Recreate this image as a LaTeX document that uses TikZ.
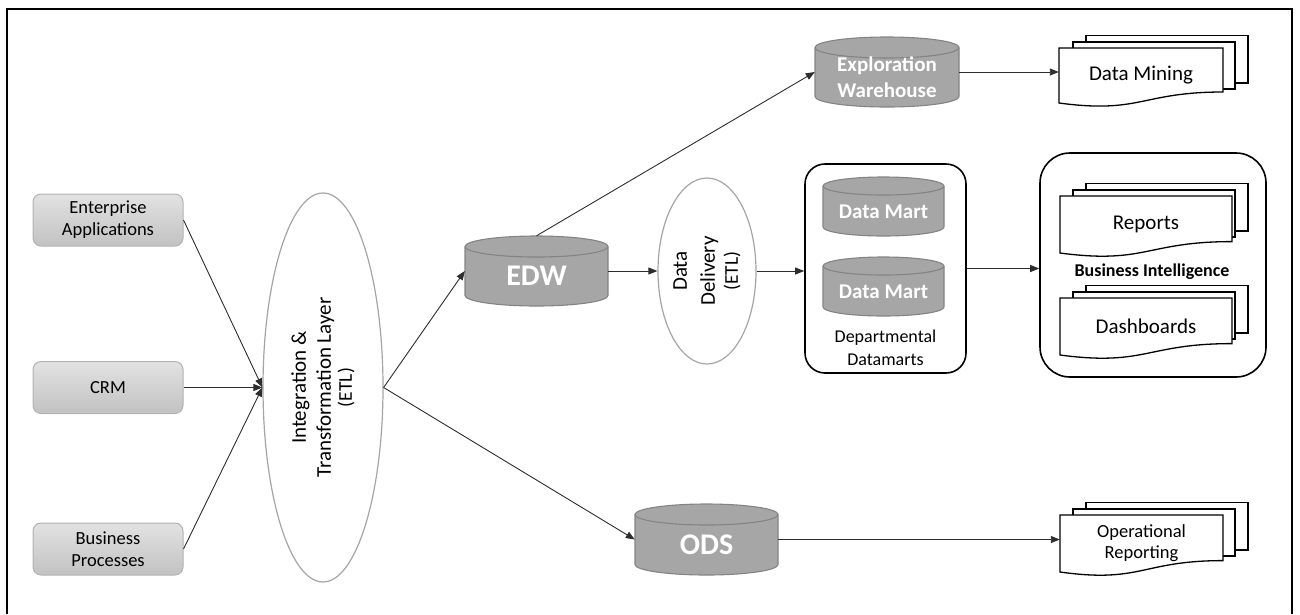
\documentclass[tikz,border=0pt]{standalone}
\usepackage{fontspec}
\setmainfont{Carlito}
\usetikzlibrary{arrows.meta,shapes.geometric}

\definecolor{srcTop}{RGB}{226,226,226}
\definecolor{srcBot}{RGB}{194,194,194}
\definecolor{srcLine}{RGB}{178,178,178}
\definecolor{cylFill}{RGB}{166,166,166}
\definecolor{cylLine}{RGB}{132,132,132}
\definecolor{ovalLine}{RGB}{165,165,165}
\definecolor{wireCol}{RGB}{45,45,45}

\newcommand{\fs}[2]{\fontsize{#1}{#2}\selectfont}

% database cylinder: [label options]{name}{cx}{cy}{width}{height}{rim radius}{label}
\newcommand{\dbcyl}[8][]{%
  \path[cylbody] ({#3-#5/2},{-(#4)+#6/2-#7}) -- ({#3-#5/2},{-(#4)-#6/2+#7})
     arc[start angle=180,end angle=360,x radius={#5/2},y radius=#7]
     -- ({#3+#5/2},{-(#4)+#6/2-#7})
     arc[start angle=0,end angle=180,x radius={#5/2},y radius=#7] -- cycle;
  \draw[cylrim] ({#3-#5/2},{-(#4)+#6/2-#7})
     arc[start angle=180,end angle=360,x radius={#5/2},y radius=#7];
  \node[cylnode,minimum width=#5,minimum height=#6] (#2) at (#3,{-(#4)}) {};
  \node[cyllabel,#1] (#2-text) at ([yshift=-5]#2.center) {#8};
}

% stack of pages: [label options]{name}{left}{right}{top}{left bottom}{label}
\newcommand{\docstack}[7][]{%
  \draw[page] (1086,{-(#5)+12.5}) rectangle (1248,{-(#5)-35});
  \draw[page] (1073,{-(#5)+6}) rectangle (1235,{-(#5)-41});
  \draw[page] (#3,{-(#5)}) -- (#4,{-(#5)}) -- (#4,{-(#5)-0.8*(#6-#5)})
     .. controls ({(#3+#4)/2},{-(#5)-0.8*(#6-#5)}) and ({(#3+#4)/2},{-(#6)-0.2*(#6-#5)}) .. (#3,{-(#6)}) -- cycle;
  \node[doclabel,minimum width={#4-#3},minimum height={#6-#5},#1] (#2) at ({(#3+#4)/2},{-(#5+#6)/2}) {#7};
}

\begin{document}
\begin{tikzpicture}[x=1pt,y=1pt,
  srcbox/.style={draw=srcLine,line width=1,rounded corners=8,top color=srcTop,bottom color=srcBot,
    minimum width=150,minimum height=52,inner sep=0,align=center,font=\fs{18.5}{22}},
  oval/.style={ellipse,draw=ovalLine,line width=1.2,fill=white,inner sep=0},
  ovallabel/.style={rotate=90,align=center,inner sep=0},
  cylbody/.style={fill=cylFill,draw=cylLine,line width=1.1,line join=round},
  cylrim/.style={draw=cylLine,line width=1.1},
  cylnode/.style={inner sep=0},
  cyllabel/.style={text=white,align=center,inner sep=0},
  groupbox/.style={draw=black,line width=1.6,fill=white,inner sep=0},
  page/.style={draw=black,line width=1.3,fill=white,line join=miter},
  doclabel/.style={align=center,inner sep=0,font=\fs{21}{24}},
  wire/.style={draw=wireCol,line width=0.9,-{Triangle[length=9pt,width=7pt]}},
  frameline/.style={draw=black,line width=2.2,line join=miter}]

\useasboundingbox (0,0) rectangle (1300,-614);

% outer frame, open at the bottom edge
\draw[frameline] (7,-614) -- (7,-9) -- (1292,-9) -- (1292,-614);

% source systems
\node[srcbox] (ea) at (108,-220) {Enterprise\\Applications};
\node[srcbox] (crm) at (108,-387.5) {CRM};
\node[srcbox] (bp) at (108,-549) {Business\\Processes};

% integration layer
\node[oval,minimum width=120,minimum height=389] (etl) at (323,-387.5) {};
\node[ovallabel,font=\fs{21}{25}] (etl-text) at (etl.center)
  {Integration \&\\Transformation Layer\\[-4pt]{\fs{19.5}{21}(ETL)}};

% warehouses
\dbcyl[font=\fs{30}{30}\bfseries]{edw}{536.5}{271}{143}{70}{10.5}{EDW}
\dbcyl[font=\fs{21}{26}\bfseries]{ew}{887}{72}{144}{70}{10.5}{Exploration\\Warehouse}
\dbcyl[font=\fs{30}{30}\bfseries]{ods}{706.5}{539.5}{143}{71}{10.5}{ODS}

% data delivery
\node[oval,minimum width=98,minimum height=186] (dd) at (707,-271) {};
\node[ovallabel,font=\fs{21}{28}] (dd-text) at (dd.center)
  {Data\\Delivery\\[-5pt]{\fs{19.5}{21}(ETL)}};

% departmental datamarts
\node[groupbox,rounded corners=20,minimum width=161,minimum height=209] (marts) at (885.5,-268.5) {};
\dbcyl[font=\fs{21}{24}\bfseries]{mart1}{883.5}{206.5}{121}{59}{9}{Data Mart}
\dbcyl[font=\fs{21}{24}\bfseries]{mart2}{883.5}{286.5}{121}{59}{9}{Data Mart}
\node[align=center,inner sep=0,font=\fs{18}{23}] (marts-text) at (885.5,-348) {Departmental\\Datamarts};

% business intelligence
\node[groupbox,rounded corners=30,minimum width=226,minimum height=224] (bi) at (1153,-265) {};
\docstack{reports}{1060}{1232}{196}{253}{Reports}
\docstack{dashboards}{1060}{1232}{298}{355}{Dashboards}
\node[inner sep=0,font=\fs{18}{18}\bfseries] (bi-text) at (1152,-272) {Business Intelligence};

% other outputs
\docstack{mining}{1059}{1223}{48}{103}{Data Mining}
\docstack[font=\fs{18.5}{21}]{opreport}{1060}{1223}{515}{572}{Operational\\Reporting}

% connectors
\draw[wire] (ea.east) -- (etl.west);
\draw[wire] (crm.east) -- (etl.west);
\draw[wire] (bp.east) -- (etl.west);
\draw[wire] (etl.east) -- (edw.west);
\draw[wire] (etl.east) -- (ods.west);
\draw[wire] (edw.north) -- (ew.west);
\draw[wire] (edw.east) -- (dd.west);
\draw[wire] (dd.east) -- (dd.east -| marts.west);
\draw[wire] (marts.east) -- (marts.east -| bi.west);
\draw[wire] (ew.east) -- (ew.east -| mining.west);
\draw[wire] (ods.east) -- (ods.east -| opreport.west);

\end{tikzpicture}
\end{document}
